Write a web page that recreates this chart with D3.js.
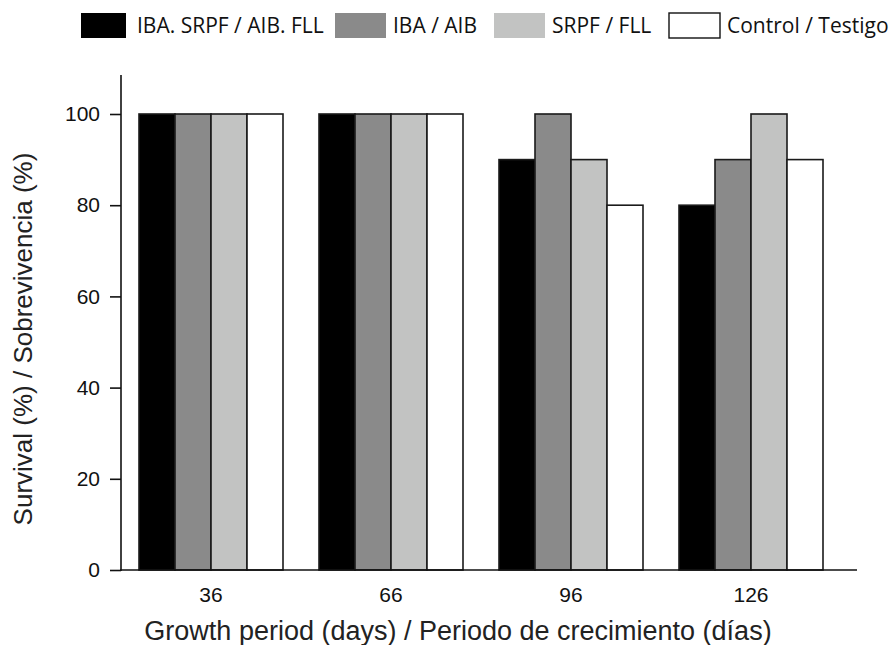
<!DOCTYPE html>
<meta charset="utf-8">
<html lang="en">
<head>
<style>
  body { margin: 0; background: #fff; }
  .tick text { font-family: "Liberation Sans", Arial, sans-serif; font-size: 21px; fill: #111; }
  .legend text { font-family: "Open Sans", sans-serif; font-size: 21px; fill: #111; }
  .title { font-family: "Liberation Sans", Arial, sans-serif; font-size: 26px; fill: #222; }
</style>
</head>
<body>
<div id="chart"></div>
<script src="https://d3js.org/d3.v7.min.js"></script>
<script>
// data
var days = ["36", "66", "96", "126"];
var seriesNames = ["IBA. SRPF / AIB. FLL", "IBA / AIB", "SRPF /  FLL", "Control / Testigo"];
var seriesColors = ["#000000", "#8a8a8a", "#c2c3c2", "#ffffff"];
var ibaSrpf = [100, 100, 90, 80];
var iba = [100, 100, 100, 90];
var srpf = [100, 100, 90, 100];
var control = [100, 100, 80, 90];
var yTicks = [0, 20, 40, 60, 80, 100];

var allSeries = [ibaSrpf, iba, srpf, control];

var width = 891, height = 645;
var svg = d3.select("#chart").append("svg")
    .attr("width", width)
    .attr("height", height);

var x0 = d3.scaleBand()
    .domain(days)
    .range([121, 841])
    .paddingInner(0.2)
    .paddingOuter(0.1);

var x1 = d3.scaleBand()
    .domain(d3.range(seriesNames.length))
    .range([0, x0.bandwidth()]);

var y = d3.scaleLinear()
    .domain([0, 100])
    .range([570, 114]);

// bars
var groups = svg.append("g").selectAll("g")
    .data(days)
    .enter().append("g")
    .attr("transform", function(d) { return "translate(" + x0(d) + ",0)"; });

groups.selectAll("rect")
    .data(function(d, i) { return allSeries.map(function(s, k) { return {k: k, v: s[i]}; }); })
    .enter().append("rect")
    .attr("x", function(d) { return x1(d.k); })
    .attr("y", function(d) { return y(d.v); })
    .attr("width", x1.bandwidth())
    .attr("height", function(d) { return y(0) - y(d.v); })
    .style("fill", function(d) { return seriesColors[d.k]; })
    .style("stroke", "#1a1a1a")
    .style("stroke-width", 1.6);

// y axis
var yAxis = svg.append("g")
    .attr("transform", "translate(121,0)")
    .call(d3.axisLeft(y).tickValues(yTicks).tickSize(11).tickPadding(10));
yAxis.select(".domain").remove();
yAxis.selectAll(".tick line").style("stroke", "#111").style("stroke-width", 1.6);
svg.append("line")
    .attr("x1", 121).attr("x2", 121)
    .attr("y1", 75).attr("y2", 571)
    .style("stroke", "#111").style("stroke-width", 1.6);

// x axis
var xAxis = svg.append("g")
    .attr("transform", "translate(0,570)")
    .call(d3.axisBottom(x0).tickSize(0).tickPadding(17));
xAxis.select(".domain").remove();
svg.append("line")
    .attr("x1", 120).attr("x2", 857)
    .attr("y1", 570).attr("y2", 570)
    .style("stroke", "#111").style("stroke-width", 1.6);

// axis titles
svg.append("text")
    .attr("class", "title")
    .attr("text-anchor", "middle")
    .attr("x", 458)
    .attr("y", 640)
    .style("font-size", "27px")
    .text("Growth period (days) / Periodo de crecimiento (días)");

svg.append("text")
    .attr("class", "title")
    .attr("text-anchor", "middle")
    .attr("transform", "translate(32,339) rotate(-90)")
    .text("Survival (%) / Sobrevivencia (%)");

// legend
var legendX = [81, 335, 494, 669];
var legend = svg.append("g").attr("class", "legend");
seriesNames.forEach(function(name, k) {
  legend.append("rect")
    .attr("x", legendX[k])
    .attr("y", 13)
    .attr("width", k === 0 ? 45 : 51)
    .attr("height", 25)
    .style("fill", seriesColors[k])
    .style("stroke", k === 3 ? "#111" : "none")
    .style("stroke-width", 1.4);
  legend.append("text")
    .attr("x", legendX[k] + (k === 0 ? 56 : 58))
    .attr("y", 33)
    .text(name);
});
</script>
</body>
</html>
